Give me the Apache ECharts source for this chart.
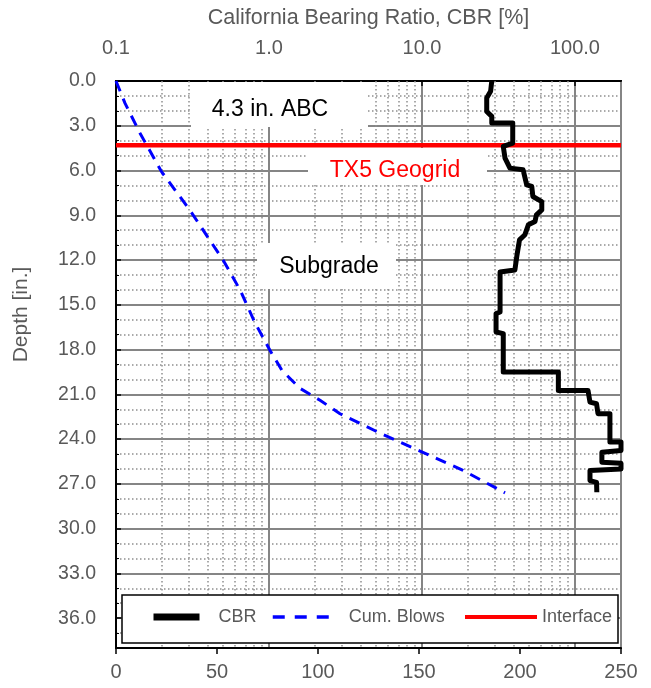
<!DOCTYPE html>
<html>
<head>
<meta charset="utf-8">
<script src="https://cdn.jsdelivr.net/npm/echarts@6/dist/echarts.min.js"></script>
<style>
  html, body { margin: 0; padding: 0; background: #ffffff; }
  #chart { width: 651px; height: 688px; }
</style>
</head>
<body>
<div id="chart"></div>
<script>
// CBR profile (top log axis): depth [in.] and CBR [%]
const cbrDepth = [0, 0.69, 1.14, 2.04, 2.37, 2.82, 2.82, 4.16, 4.38, 5.17,
  5.84, 5.95, 6.96, 7.07, 7.74, 8.08, 8.64, 8.97, 9.42, 9.64,
  10.3, 10.65, 11.66, 12.66, 12.8, 15.48, 15.59, 16.82, 16.93, 19.5,
  19.5, 20.74, 20.74, 21.52, 21.63, 22.3, 22.3, 24.2, 24.2, 24.77,
  24.88, 25.55, 25.62, 26.0, 26.1, 26.78, 26.9, 27.56];
const cbrValues = [28.6, 28.1, 26.5, 26.5, 28.6, 28.6, 39.2, 39.2, 34.0, 34.9,
  37.6, 45.8, 48.4, 52.2, 53.1, 60.7, 60.7, 56.0, 54.8, 49.6,
  47.1, 43.4, 41.8, 40.5, 32.4, 32.4, 30.5, 30.5, 34.0, 34.0,
  77.9, 77.9, 121.7, 125.4, 138.4, 141.5, 169.3, 169.3, 200, 200,
  150, 150, 200, 200, 125.4, 125.4, 138.4, 139];

// Cumulative DCP blows (bottom axis) vs depth [in.]
const blowDepth = [0, 1.5, 3.5, 6.09, 8.66, 12.0, 14.0, 16.2, 18.05, 19.4,
  20.6, 21.4, 22.3, 22.95, 23.6, 24.8, 26.1, 27.6];
const cumBlows = [0, 4.5, 11.9, 22.6, 36.6, 53, 61.4, 68.8, 76.2, 82.2,
  91.1, 101, 110.9, 120.8, 130.7, 150.5, 171.8, 192.6];

// Layer interface depth [in.]
const interfaceDepth = 4.3;
const blowsRange = [0, 250];

// Axis settings
const depthTicks = { min: 0, max: 38, interval: 3 };
const cbrRange = { min: 0.1, max: 200 };
const blowsTicks = { min: 0, max: 250, interval: 50 };

// Layer annotations
const layerLabels = ['4.3 in. ABC', 'TX5 Geogrid', 'Subgrade'];
const seriesNames = ['CBR', 'Cum. Blows', 'Interface'];

const FONT = "'Liberation Sans', Arial, sans-serif";
const GREY_TEXT = '#595959';
const MAJOR_GRID = { color: '#858585', width: 2, type: 'solid' };
const MINOR_GRID = { color: '#8f8f8f', width: 1.5, type: [1.5, 2.5] };

// Minor log-decade positions (2..9 in every decade) for the dotted vertical grid
const logMinor = [];
for (let d = 0.1; d < cbrRange.max; d *= 10) {
  for (let m = 2; m <= 9; m++) {
    const v = +(m * d).toPrecision(3);
    if (v < cbrRange.max) logMinor.push(v);
  }
}

const chart = echarts.init(document.getElementById('chart'), null, { renderer: 'canvas' });

const option = {
  animation: false,
  backgroundColor: '#ffffff',
  textStyle: { fontFamily: FONT },
  grid: {
    left: 116, right: 30, top: 81, bottom: 40,
    show: true, borderColor: '#000', borderWidth: 2, backgroundColor: 'transparent'
  },
  xAxis: [
    {
      type: 'value', position: 'bottom',
      min: blowsTicks.min, max: blowsTicks.max, interval: blowsTicks.interval,
      axisLine: { show: true, onZero: false, lineStyle: { color: '#000', width: 2 } },
      axisTick: { show: true, inside: false, length: 6, lineStyle: { color: '#000', width: 1.5 } },
      axisLabel: { color: GREY_TEXT, fontSize: 20, fontFamily: FONT, margin: 14 },
      splitLine: { show: false }
    },
    {
      type: 'log', logBase: 10, position: 'top',
      min: cbrRange.min, max: cbrRange.max,
      name: 'California Bearing Ratio, CBR [%]',
      nameLocation: 'middle', nameGap: 52,
      nameTextStyle: { color: GREY_TEXT, fontSize: 21.5, fontFamily: FONT },
      axisLine: { show: true, onZero: false, lineStyle: { color: '#000', width: 2 } },
      axisTick: { show: true, inside: true, length: 5, lineStyle: { color: '#000', width: 1.5 } },
      axisLabel: {
        color: GREY_TEXT, fontSize: 20, fontFamily: FONT, margin: 23,
        showMaxLabel: false,
        formatter: v => v.toFixed(1)
      },
      splitLine: { show: true, lineStyle: MAJOR_GRID }
    }
  ],
  yAxis: {
    type: 'value', inverse: true,
    min: depthTicks.min, max: depthTicks.max, interval: depthTicks.interval,
    name: 'Depth [in.]',
    nameLocation: 'middle', nameGap: 84,
    nameTextStyle: { color: GREY_TEXT, fontSize: 21, fontFamily: FONT, padding: [0, 0, 0, 100] },
    axisLine: { show: true, onZero: false, lineStyle: { color: '#000', width: 2 } },
    axisTick: { show: true, inside: true, length: 5, lineStyle: { color: '#000', width: 1.5 } },
    minorTick: { show: true, splitNumber: 3, length: 3, lineStyle: { color: '#000', width: 1 } },
    axisLabel: {
      color: GREY_TEXT, fontSize: 19.5, fontFamily: FONT, margin: 20,
      showMaxLabel: false,
      formatter: v => v.toFixed(1)
    },
    splitLine: { show: true, lineStyle: MAJOR_GRID },
    minorSplitLine: { show: true, lineStyle: MINOR_GRID }
  },
  legend: [
    {
      data: [{ name: seriesNames[0], lineStyle: { width: 7 }, itemStyle: { opacity: 0 } }],
      left: 150, top: 608, padding: 0, itemWidth: 46, itemHeight: 20,
      textStyle: { color: GREY_TEXT, fontSize: 18, fontFamily: FONT, padding: [0, 0, 0, 14] },
      selectedMode: false, z: 40
    },
    {
      data: [{ name: seriesNames[1], lineStyle: { width: 3.5, type: [12, 10] }, itemStyle: { opacity: 0 } }],
      left: 271, top: 608, padding: 0, itemWidth: 58, itemHeight: 20,
      textStyle: { color: GREY_TEXT, fontSize: 18, fontFamily: FONT, padding: [0, 0, 0, 13] },
      selectedMode: false, z: 40
    },
    {
      data: [{ name: seriesNames[2], lineStyle: { width: 4 }, itemStyle: { opacity: 0 } }],
      left: 463, top: 608, padding: 0, itemWidth: 72, itemHeight: 20,
      textStyle: { color: GREY_TEXT, fontSize: 18, fontFamily: FONT, padding: [0, 0, 0, 0] },
      selectedMode: false, z: 40
    }
  ],
  graphic: [
    // white label panels that interrupt the grid
    { type: 'rect', z: 5, silent: true, shape: { x: 191, y: 82, width: 177, height: 45 }, style: { fill: '#fff' } },
    { type: 'text', z: 6, silent: true, x: 270, y: 110,
      style: { text: layerLabels[0], fill: '#000', fontSize: 23, fontFamily: FONT, align: 'center', verticalAlign: 'middle' } },
    { type: 'rect', z: 5, silent: true, shape: { x: 308, y: 148, width: 179, height: 37 }, style: { fill: '#fff' } },
    { type: 'text', z: 6, silent: true, x: 395, y: 171,
      style: { text: layerLabels[1], fill: '#ff0000', fontSize: 23, fontFamily: FONT, align: 'center', verticalAlign: 'middle' } },
    { type: 'rect', z: 5, silent: true, shape: { x: 257, y: 243, width: 139, height: 46 }, style: { fill: '#fff' } },
    { type: 'text', z: 6, silent: true, x: 329, y: 267,
      style: { text: layerLabels[2], fill: '#000', fontSize: 23, fontFamily: FONT, align: 'center', verticalAlign: 'middle' } },
    // legend frame
    { type: 'rect', z: 30, silent: true, shape: { x: 122, y: 595, width: 496, height: 48 },
      style: { fill: '#fff', stroke: '#000', lineWidth: 1.5 } }
  ],
  series: [
    {
      // dotted minor grid of the logarithmic CBR axis
      name: 'log-minor-grid', type: 'line', xAxisIndex: 1, yAxisIndex: 0,
      data: [], silent: true, z: 1,
      markLine: {
        silent: true, z: 1, symbol: ['none', 'none'], animation: false,
        label: { show: false }, emphasis: { disabled: true },
        lineStyle: MINOR_GRID,
        data: logMinor.map(v => ({ xAxis: v }))
      }
    },
    {
      name: seriesNames[0], type: 'line', xAxisIndex: 1, yAxisIndex: 0,
      data: cbrValues.map((v, i) => [v, cbrDepth[i]]),
      symbol: 'none', z: 10, clip: true,
      lineStyle: { color: '#000', width: 5, join: 'round' },
      itemStyle: { color: '#000' }
    },
    {
      name: seriesNames[1], type: 'line', xAxisIndex: 0, yAxisIndex: 0,
      data: cumBlows.map((v, i) => [v, blowDepth[i]]),
      symbol: 'none', z: 10,
      lineStyle: { color: '#0000ff', width: 3, type: [11, 8] },
      itemStyle: { color: '#0000ff' }
    },
    {
      name: seriesNames[2], type: 'line', xAxisIndex: 0, yAxisIndex: 0,
      data: blowsRange.map(v => [v, interfaceDepth]),
      symbol: 'none', z: 9,
      lineStyle: { color: '#ff0000', width: 4.5 },
      itemStyle: { color: '#ff0000' }
    }
  ]
};

chart.setOption(option);
</script>
</body>
</html>
